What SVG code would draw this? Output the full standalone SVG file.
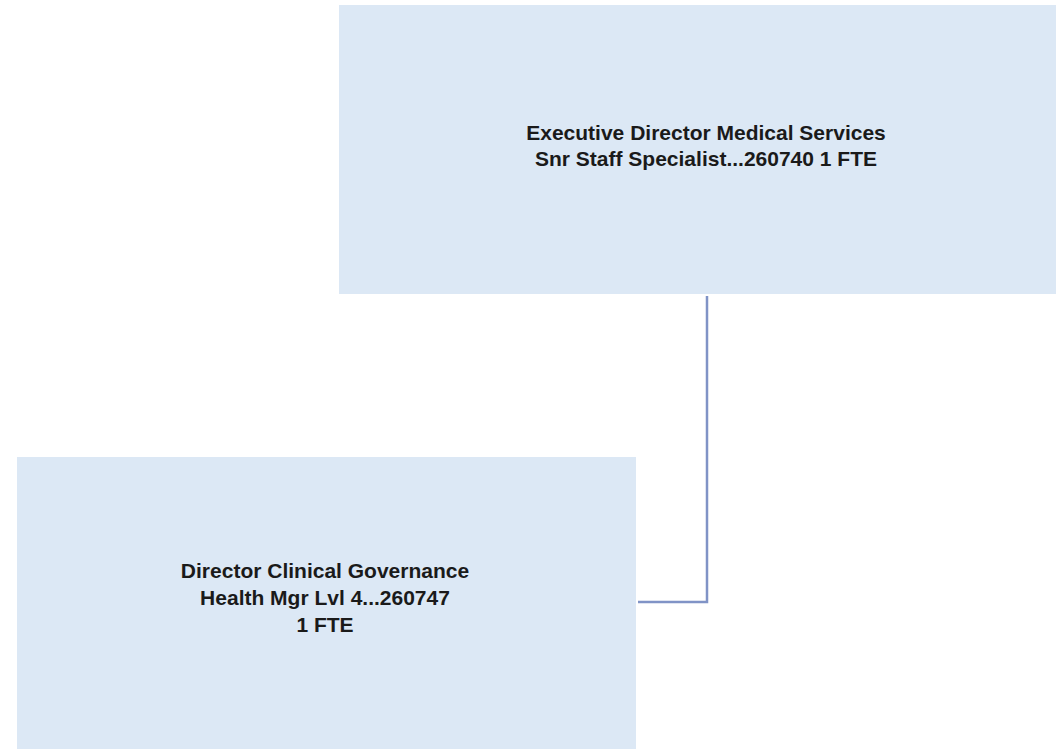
<svg xmlns="http://www.w3.org/2000/svg" width="1056" height="749" viewBox="0 0 1056 749">
<style>
.box{fill:#dce8f5;}
.lbl{font-family:"Liberation Sans",Arial,sans-serif;font-weight:bold;font-size:21px;fill:#1a1a1a;text-anchor:middle;}
.conn{fill:none;stroke:#8093c6;stroke-width:2.5;}
</style>
<rect width="1056" height="749" fill="#ffffff"/>
<g id="connectors">
<path class="conn" d="M707,296 V602 H638"/>
</g>
<g id="node-executive-director">
<rect class="box" x="339" y="5" width="740" height="289"/>
<text class="lbl" x="706" y="140">Executive Director Medical Services</text>
<text class="lbl" x="706" y="166">Snr Staff Specialist...260740 1 FTE</text>
</g>
<g id="node-director-clinical-governance">
<rect class="box" x="17" y="457" width="619" height="300"/>
<text class="lbl" x="325" y="578">Director Clinical Governance</text>
<text class="lbl" x="325" y="605">Health Mgr Lvl 4...260747</text>
<text class="lbl" x="325" y="632">1 FTE</text>
</g>
</svg>
